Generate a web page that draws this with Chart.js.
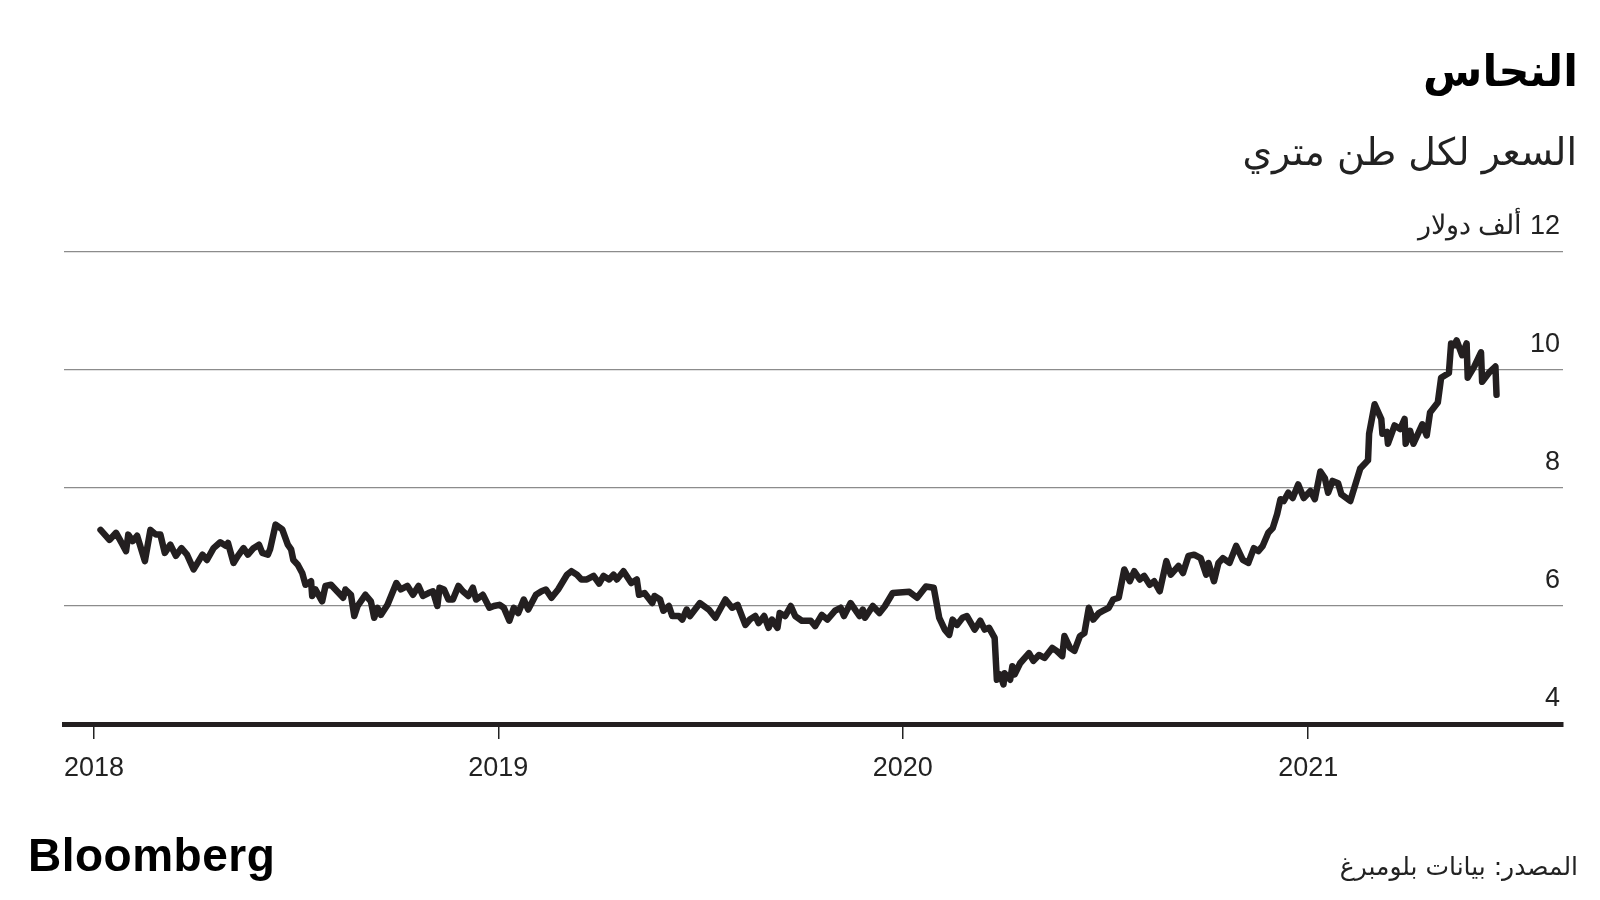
<!DOCTYPE html>
<html lang="ar">
<head>
<meta charset="utf-8">
<title>النحاس</title>
<script src="https://cdn.jsdelivr.net/npm/chart.js@4.4.0/dist/chart.umd.min.js"></script>
<style>
    html, body { margin: 0; padding: 0; background: #fff; }
    #wrap { position: relative; width: 1600px; height: 900px; overflow: hidden; }
    #priceChart { position: absolute; left: 0; top: 0; direction: rtl; }
    .txt { position: absolute; direction: rtl; color: #111; white-space: nowrap; line-height: 1; }
    #title { right: 22px; top: 46px; font: bold 43px "DejaVu Sans"; color: #000; }
    #subtitle { right: 23px; top: 130px; font: 38px "DejaVu Sans"; color: #222; }
    #source { right: 22px; top: 852px; font: 25px "DejaVu Sans"; color: #222; }
    #logo { left: 28px; top: 828px; direction: ltr; font: bold 46px "Liberation Sans"; letter-spacing: 0.5px; color: #000; }
</style>
</head>
<body>
<div id="wrap">
    <canvas id="priceChart" width="1600" height="900"></canvas>
    <div class="txt" id="title">النحاس</div>
    <div class="txt" id="subtitle">السعر لكل طن متري</div>
    <div class="txt" id="source">المصدر: بيانات بلومبرغ</div>
    <div class="txt" id="logo">Bloomberg</div>
</div>
<script>
// days since 2018-01-01
const dayOffsets = [
    6, 14, 20, 25, 29, 31, 35, 39, 46, 51, 56, 60, 64, 69, 74, 79, 84, 90, 98, 102,
    108, 114, 119, 121, 126, 130, 135, 139, 144, 149, 152, 157, 159, 164, 170, 175, 178, 180,
    184, 188, 191, 196, 197, 200, 206, 209, 214, 218, 225, 227, 232, 235, 238, 245, 250, 253,
    256, 259, 265, 273, 277, 283, 288, 293, 297, 302, 306, 310, 312, 316, 320, 324, 329, 333,
    338, 342, 345, 351, 357, 361, 366, 370, 375, 379, 383, 388, 392, 399, 404, 408, 413, 419,
    427, 431, 436, 440, 445, 451, 456, 460, 465, 469, 472, 478,
    485, 490, 492, 497, 504, 506, 511, 514, 519, 522, 528, 531, 535, 538, 547, 555, 561, 570,
    576, 581, 588, 592, 597, 600, 605, 609, 612, 617, 619, 624, 629, 633, 639, 647, 651, 657,
    662, 669, 674, 677, 683, 691, 694, 696, 703, 709, 714, 721, 736, 743, 751, 758,
    763, 768, 772, 775, 779, 784, 788, 795, 800, 804, 808, 813, 815, 818, 821, 822, 827, 829,
    831, 836, 844, 848, 853, 858, 865, 869, 874, 876, 881, 885, 890, 894, 898, 902, 907, 911,
    916, 920, 925,
    930, 935, 939, 944, 948, 953, 957, 962, 968, 972, 979, 983, 988, 993, 999, 1004, 1006, 1011,
    1015, 1019, 1025, 1031, 1037, 1042, 1047, 1051, 1055, 1060, 1064,
    1068, 1071, 1074, 1078, 1082, 1087, 1092, 1098, 1102, 1107, 1111, 1114, 1118, 1123, 1126,
    1134, 1143, 1150, 1151, 1156, 1162, 1163, 1167, 1168, 1174, 1179, 1183, 1184, 1188, 1191,
    1199, 1203, 1206, 1213, 1216, 1223, 1225, 1228, 1230, 1235, 1239, 1240, 1246, 1252, 1253,
    1259, 1265, 1266
];

// copper price, thousand USD per metric ton
const prices = [
    7.29, 7.12, 7.24, 7.07, 6.93, 7.21, 7.10, 7.19, 6.76, 7.29, 7.21, 7.21, 6.90, 7.04, 6.85, 6.98, 6.87, 6.62, 6.87, 6.78,
    6.98, 7.08, 7.02, 7.07, 6.73, 6.85, 6.98, 6.87, 6.98, 7.04, 6.90, 6.87, 6.96, 7.38, 7.30, 7.04, 6.96, 6.78,
    6.70, 6.56, 6.36, 6.42, 6.17, 6.28, 6.08, 6.34, 6.36, 6.28, 6.14, 6.28, 6.19, 5.83, 6.00, 6.19, 6.08, 5.80,
    5.97, 5.85, 6.02, 6.39, 6.28, 6.34, 6.19, 6.34, 6.17, 6.22, 6.25, 6.00, 6.31, 6.28, 6.11, 6.11, 6.34, 6.25,
    6.17, 6.31, 6.11, 6.19, 5.97, 6.00, 6.02, 5.97, 5.75, 5.97, 5.88, 6.11, 5.94, 6.19, 6.25, 6.28, 6.14, 6.28,
    6.53, 6.59, 6.53, 6.45, 6.45, 6.51, 6.38, 6.51, 6.45, 6.53, 6.45, 6.59,
    6.39, 6.45, 6.19, 6.22, 6.05, 6.17, 6.11, 5.92, 6.00, 5.83, 5.83, 5.77, 5.94, 5.83, 6.05, 5.94, 5.80, 6.11,
    5.97, 6.02, 5.68, 5.77, 5.83, 5.71, 5.83, 5.63, 5.77, 5.63, 5.88, 5.83, 6.00, 5.83, 5.75, 5.75, 5.66, 5.85,
    5.77, 5.92, 5.97, 5.83, 6.05, 5.83, 5.94, 5.80, 6.00, 5.88, 6.00, 6.22, 6.24, 6.14, 6.33, 6.31,
    5.80, 5.60, 5.51, 5.77, 5.68, 5.80, 5.83, 5.60, 5.75, 5.60, 5.63, 5.46, 4.75, 4.84, 4.67, 4.86, 4.75, 4.98,
    4.84, 5.03, 5.20, 5.07, 5.17, 5.12, 5.29, 5.24, 5.15, 5.49, 5.29, 5.24, 5.49, 5.54, 5.97, 5.77, 5.88, 5.92,
    5.97, 6.11, 6.14,
    6.62, 6.42, 6.59, 6.45, 6.51, 6.36, 6.42, 6.25, 6.76, 6.53, 6.68, 6.56, 6.85, 6.87, 6.81, 6.53, 6.73, 6.42,
    6.73, 6.81, 6.73, 7.02, 6.78, 6.73, 6.98, 6.93, 7.02, 7.24, 7.32,
    7.56, 7.81, 7.78, 7.92, 7.83, 8.06, 7.83, 7.95, 7.81, 8.28, 8.17, 7.92, 8.12, 8.08, 7.89,
    7.78, 8.33, 8.47, 8.92, 9.42, 9.17, 8.92, 8.95, 8.75, 9.06, 9.00, 9.17, 8.75, 8.97, 8.75,
    9.08, 8.89, 9.28, 9.45, 9.87, 9.95, 10.45, 10.42, 10.50, 10.25, 10.45, 9.87, 10.06, 10.30, 9.80,
    9.95, 10.06, 9.58
];

const yearTicks = [0, 365, 730, 1096];
const yearLabels = ['2018', '2019', '2020', '2021'];
const priceTicks = [4, 6, 8, 10, 12];
const unitLabel = 'ألف دولار';

const numFont = { family: '"Liberation Sans", Arial, sans-serif', size: 27 };

const ctx = document.getElementById('priceChart').getContext('2d');
const priceChart = new Chart(ctx, {
    type: 'line',
    data: {
        datasets: [{
            data: dayOffsets.map((d, i) => ({ x: d, y: prices[i] })),
            borderColor: '#231f20',
            borderWidth: 6.5,
            borderJoinStyle: 'round',
            borderCapStyle: 'round',
            pointRadius: 0,
            tension: 0,
            fill: false
        }]
    },
    options: {
        responsive: false,
        animation: false,
        layout: { padding: { left: 64, right: 37, top: 252, bottom: 106 } },
        plugins: { legend: { display: false }, tooltip: { enabled: false } },
        scales: {
            x: {
                type: 'linear',
                min: -27,
                max: 1326,
                afterBuildTicks: function(scale) {
                    scale.ticks = yearTicks.map(v => ({ value: v }));
                },
                afterFit: function(scale) { scale.height = 70; },
                ticks: {
                    autoSkip: false,
                    maxRotation: 0,
                    padding: 13,
                    color: '#222',
                    font: numFont,
                    callback: function(value) {
                        return yearLabels[yearTicks.indexOf(value)];
                    }
                },
                grid: {
                    drawOnChartArea: false,
                    drawTicks: true,
                    tickLength: 15,
                    color: '#222',
                    lineWidth: 1.5
                },
                border: { display: true, color: '#231f20', width: 5 }
            },
            y: {
                position: 'right',
                min: 4,
                max: 12,
                afterBuildTicks: function(scale) {
                    scale.ticks = priceTicks.map(v => ({ value: v }));
                },
                afterFit: function(scale) { scale.width = 0; },
                ticks: {
                    mirror: true,
                    padding: -3,
                    labelOffset: -25,
                    color: '#222',
                    font: numFont,
                    callback: function(value) {
                        return value === 12 ? '12 ' + unitLabel : String(value);
                    }
                },
                grid: {
                    drawTicks: false,
                    lineWidth: 1.2,
                    color: function(c) {
                        return c.tick && c.tick.value === 4 ? 'rgba(0,0,0,0)' : '#8c8c8c';
                    }
                },
                border: { display: false }
            }
        }
    }
});
</script>
</body>
</html>
